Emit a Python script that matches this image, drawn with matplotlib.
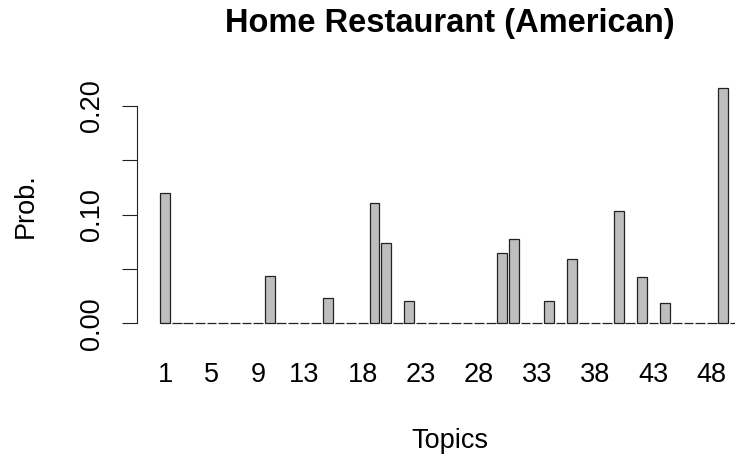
import numpy as np
import matplotlib
matplotlib.use('Agg')
import matplotlib.pyplot as plt
from matplotlib.ticker import FixedLocator, FixedFormatter

# Topic probabilities (50 topics, most are zero)
topics = list(range(1, 51))
probs = [0.0] * 50
nonzero = {1: 0.1197, 10: 0.0436, 15: 0.0230, 19: 0.1110, 20: 0.0737,
           22: 0.0208, 30: 0.0650, 31: 0.0773, 34: 0.0208, 36: 0.0595,
           40: 0.1037, 42: 0.0426, 44: 0.0184, 49: 0.2164}
for t, p in nonzero.items():
	probs[t - 1] = p

# Labels shown under the bars
shown_topics = [1, 5, 9, 13, 18, 23, 28, 33, 38, 43, 48]
y_ticks = [0.0, 0.05, 0.10, 0.15, 0.20]
y_labels = ['0.00', '', '0.10', '', '0.20']

plt.rcParams['font.family'] = ['Liberation Sans', 'DejaVu Sans']
fs = 19.5

fig = plt.figure(figsize=(7.35, 4.57), dpi=100)
ax = fig.add_axes([137 / 735, (457 - 332.7) / 457, (763 - 137) / 735, (332.7 - 78.8) / 457])

# barplot layout: width 1, space 0.2
centers = 0.7 + 1.2 * np.arange(len(topics))
ax.bar(centers, probs, width=1.0, color='#BEBEBE', edgecolor='#222222', linewidth=0.9)

n = len(topics)
lo, hi = 0.2, 1.2 * n
ext = 0.04 * (hi - lo)
ax.set_xlim(lo - ext, hi + ext)
ymax = max(probs)
ax.set_ylim(-0.04 * ymax, ymax * 1.04)

for s in ['top', 'right', 'bottom']:
	ax.spines[s].set_visible(False)
ax.spines['left'].set_bounds(0, 0.20)
ax.spines['left'].set_linewidth(0.8)
ax.spines['left'].set_color('#222222')

ax.yaxis.set_major_locator(FixedLocator(y_ticks))
ax.yaxis.set_major_formatter(FixedFormatter(y_labels))
ax.tick_params(axis='y', length=10.8, width=0.8, color='#222222', labelsize=fs, pad=12)
for lbl in ax.get_yticklabels():
	lbl.set_rotation(90)
	lbl.set_va('center')

ax.set_xticks([centers[t - 1] for t in shown_topics])
ax.set_xticklabels([str(t) for t in shown_topics])
ax.tick_params(axis='x', length=0, labelsize=fs, pad=21)

ax.set_title('Home Restaurant (American)', fontsize=23.5, fontweight='bold', pad=34)
ax.set_xlabel('Topics', fontsize=fs, labelpad=29)
ax.set_ylabel('Prob.', fontsize=fs, labelpad=29)

fig.savefig('out.png', dpi=100)
